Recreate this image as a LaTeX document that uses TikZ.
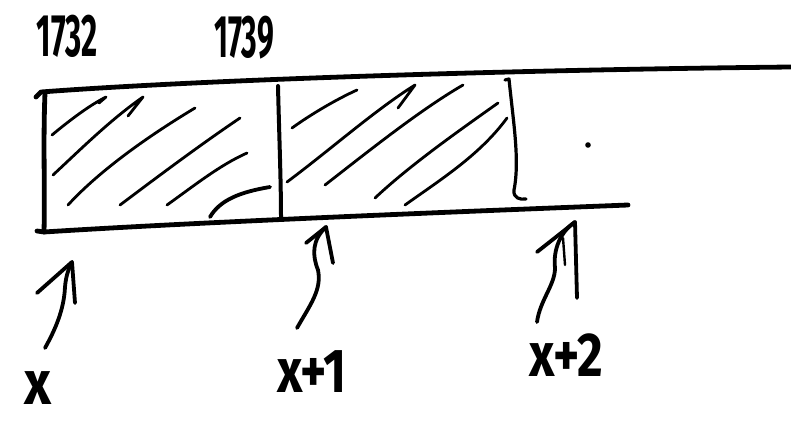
\documentclass[tikz,border=0pt]{standalone}
\usepackage{fontspec}
\setmainfont{Fira Sans}
\begin{document}
\begin{tikzpicture}[x=1pt,y=-1pt,line cap=round,line join=round,
  ink/.style={line width=4.8pt},
  hatch/.style={line width=2.8pt},
  arr/.style={line width=3.8pt},
  lbl/.style={inner sep=0pt,font=\fontsize{62}{62}\selectfont\bfseries},
  yr/.style={inner sep=0pt,font=\fontsize{60}{60}\selectfont\bfseries}]
\useasboundingbox[fill=white] (0,0) rectangle (791,420);
% labels
\node[yr] (y1) at (67,36) {\scalebox{0.52}[1]{1732}};
\node[yr] (y2) at (244,38) {\scalebox{0.5}[1]{1739}};
\node[lbl] (lx) at (38,388) {\scalebox{0.85}[1]{x}};
\node[lbl] (lx1) at (312,372) {\scalebox{0.8}[1]{x+1}};
\node[lbl] (lx2) at (566,355) {\scalebox{0.8}[1]{x+2}};
% box
\draw[ink] (36,97) -- (41,92) .. controls (200,80) and (500,70) .. (791,67);
\draw[ink] (45,93) .. controls (43,140) and (45,190) .. (44,232);
\draw[ink] (37,231) -- (44,232) .. controls (200,222) and (450,212) .. (628,205);
\draw[ink,line width=4pt] (278,86) .. controls (279,130) and (281,180) .. (281,218);
\draw[line width=3.2pt] (505,80) -- (509,79) .. controls (513,120) and (520,160) .. (514,190)
  .. controls (513,198) and (520,200) .. (526,199);
\fill (588,145) circle (2.8);
% hatching left cell
\begin{scope}[hatch]
\draw (52,135) .. controls (70,120) and (90,105) .. (106,97) -- (99,103);
\draw (53,175) .. controls (80,150) and (110,120) .. (143,97) -- (128,116);
\draw (68,205) .. controls (100,170) and (150,135) .. (195,108);
\draw (120,205) .. controls (160,175) and (200,145) .. (240,118);
\draw (167,205) .. controls (195,185) and (220,165) .. (247,153);
\draw[line width=3.8pt] (210,217) .. controls (220,200) and (240,192) .. (270,187);
% right cell
\draw (292,128) .. controls (310,115) and (335,100) .. (357,90);
\draw (287,182) .. controls (330,150) and (375,110) .. (415,85) -- (398,108);
\draw (325,185) .. controls (370,150) and (420,110) .. (463,85);
\draw (375,198) .. controls (410,165) and (460,130) .. (498,103);
\draw (405,205) .. controls (440,180) and (480,155) .. (507,118);
\end{scope}
% arrows
\coordinate (t0) at (72,262);
\coordinate (t1) at (326,227);
\coordinate (t2) at (575,222);
\draw[arr] (45,348) .. controls (55,330) and (64,310) .. (65,287) .. controls (66,275) and (69,268) .. (t0);
\draw[arr] (37,293) -- (t0) -- (75,303);
\draw[arr] (297,328) .. controls (310,305) and (322,290) .. (318,270) .. controls (312,255) and (312,240) .. (t1);
\draw[arr] (306,243) -- (t1) -- (333,263);
\draw[arr] (537,322) .. controls (540,300) and (555,285) .. (555,268) .. controls (553,250) and (560,232) .. (t2);
\draw[arr] (537,252) -- (t2) -- (577,298);
\draw[line width=2.4pt] (563,238) -- (565,265);
\end{tikzpicture}
\end{document}
